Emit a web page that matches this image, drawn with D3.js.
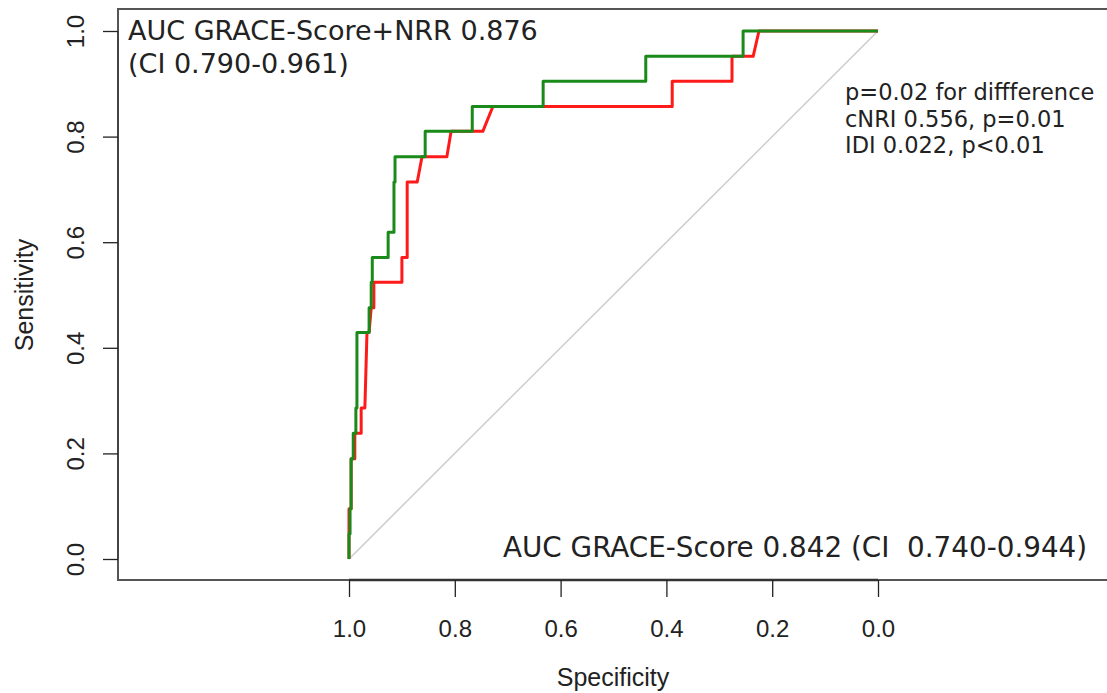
<!DOCTYPE html>
<html><head><meta charset="utf-8">
<script src="https://cdn.jsdelivr.net/npm/d3@7"></script>
<style>html,body{margin:0;padding:0;background:#fff;}svg{display:block;}</style>
</head><body>
<svg id="c" width="1107" height="693"></svg>
<script>
// ---- data ----
const xTicks = [1.0, 0.8, 0.6, 0.4, 0.2, 0.0];
const yTicks = [0.0, 0.2, 0.4, 0.6, 0.8, 1.0];
// GRACE-Score (red): specificity / sensitivity
const redSpec = [1.000,1.000,0.996,0.996,0.989,0.989,0.977,0.977,0.970,0.966,0.962,0.958,0.953,0.953,0.900,0.900,0.890,0.890,0.871,0.862,0.815,0.807,0.747,0.728,0.389,0.389,0.276,0.276,0.236,0.225,0.000];
const redSens = [0.000,0.095,0.095,0.190,0.190,0.238,0.238,0.286,0.286,0.429,0.429,0.476,0.476,0.524,0.524,0.571,0.571,0.714,0.714,0.762,0.762,0.810,0.810,0.857,0.857,0.905,0.905,0.952,0.952,1.000,1.000];
// GRACE-Score+NRR (green)
const greenSpec = [1.000,1.000,0.998,0.998,0.996,0.996,0.992,0.992,0.987,0.987,0.985,0.985,0.962,0.962,0.958,0.958,0.956,0.956,0.926,0.926,0.915,0.915,0.913,0.913,0.856,0.856,0.767,0.767,0.633,0.633,0.439,0.439,0.255,0.255,0.000];
const greenSens = [0.000,0.048,0.048,0.095,0.095,0.190,0.190,0.238,0.238,0.286,0.286,0.429,0.429,0.476,0.476,0.524,0.524,0.571,0.571,0.619,0.619,0.714,0.714,0.762,0.762,0.810,0.810,0.857,0.857,0.905,0.905,0.952,0.952,1.000,1.000];
const annoTopLeft = ["AUC GRACE-Score+NRR 0.876", "(CI 0.790-0.961)"];
const annoRight = ["p=0.02 for diffference", "cNRI 0.556, p=0.01", "IDI 0.022, p<0.01"];
const annoBottom = "AUC GRACE-Score 0.842 (CI\u00a0\u00a00.740-0.944)";

// ---- drawing ----
const svg = d3.select("#c");
const x = d3.scaleLinear().domain([1, 0]).range([349, 878]);
const y = d3.scaleLinear().domain([0, 1]).range([559, 31]);
const box = {left: 118, top: 9, bottom: 580, right: 1120};

// plot box
svg.append("path")
  .attr("d", `M${box.right},${box.top}H${box.left}V${box.bottom}H${box.right}`)
  .attr("fill", "none").attr("stroke", "#555").attr("stroke-width", 2);

// diagonal
svg.append("line")
  .attr("x1", x(1)).attr("y1", y(0)).attr("x2", x(0)).attr("y2", y(1))
  .attr("stroke", "#cccccc").attr("stroke-width", 1.5);

const line = d3.line().x(d => x(d[0])).y(d => y(d[1]));
const redPts = redSpec.map((s, i) => [s, redSens[i]]);
const greenPts = greenSpec.map((s, i) => [s, greenSens[i]]);
svg.append("path").datum(redPts).attr("d", line)
  .attr("fill", "none").attr("stroke", "#ff1a1a").attr("stroke-width", 3).attr("stroke-linejoin", "round");
svg.append("path").datum(greenPts).attr("d", line)
  .attr("fill", "none").attr("stroke", "#1a8a1a").attr("stroke-width", 3).attr("stroke-linejoin", "round");

// x axis
const xAxis = d3.axisBottom(x).tickValues(xTicks).tickFormat(d3.format(".1f")).tickSize(17).tickPadding(23);
const gx = svg.append("g").attr("transform", `translate(0,${box.bottom})`).call(xAxis);
gx.select(".domain").attr("d", `M${x(1)},0H${x(0)}`).attr("stroke", "#333").attr("stroke-width", 2.5);
gx.selectAll(".tick line").attr("stroke", "#222").attr("stroke-width", 1.3);
gx.selectAll(".tick text").attr("font-family", "Liberation Sans, Arial, sans-serif").attr("font-size", 24).attr("fill", "#222");

// y axis
const yAxis = d3.axisLeft(y).tickValues(yTicks).tickFormat(d3.format(".1f")).tickSize(15);
const gy = svg.append("g").attr("transform", `translate(${box.left},0)`).call(yAxis);
gy.select(".domain").attr("d", `M0,${y(0)}V${y(1)}`).attr("stroke", "#444").attr("stroke-width", 2);
gy.selectAll(".tick line").attr("stroke", "#222").attr("stroke-width", 1.3);
gy.selectAll(".tick text")
  .attr("font-family", "Liberation Sans, Arial, sans-serif").attr("font-size", 24).attr("fill", "#222")
  .attr("text-anchor", "middle").attr("x", 0).attr("dy", null)
  .attr("transform", "translate(-43,0) rotate(-90)").attr("dominant-baseline", "central");

// axis titles
svg.append("text").attr("x", 613).attr("y", 686).attr("text-anchor", "middle")
  .attr("font-family", "Liberation Sans, Arial, sans-serif").attr("font-size", 25).attr("fill", "#222")
  .text("Specificity");
svg.append("text").attr("transform", "translate(33,295) rotate(-90)").attr("text-anchor", "middle")
  .attr("font-family", "Liberation Sans, Arial, sans-serif").attr("font-size", 25).attr("fill", "#222")
  .text("Sensitivity");

// annotations
const anno = svg.append("g").attr("font-family", "DejaVu Sans, Verdana, sans-serif").attr("fill", "#222");
anno.selectAll("text.tl").data(annoTopLeft).join("text").attr("class", "tl")
  .attr("x", 128).attr("y", (d, i) => 40 + i * 33).attr("font-size", 27).text(d => d);
anno.selectAll("text.rt").data(annoRight).join("text").attr("class", "rt")
  .attr("x", 845).attr("y", (d, i) => 100 + i * 26.5).attr("font-size", 22.5).text(d => d);
anno.append("text").attr("x", 503).attr("y", 557).attr("font-size", 27.8).text(annoBottom);
</script>
</body></html>
